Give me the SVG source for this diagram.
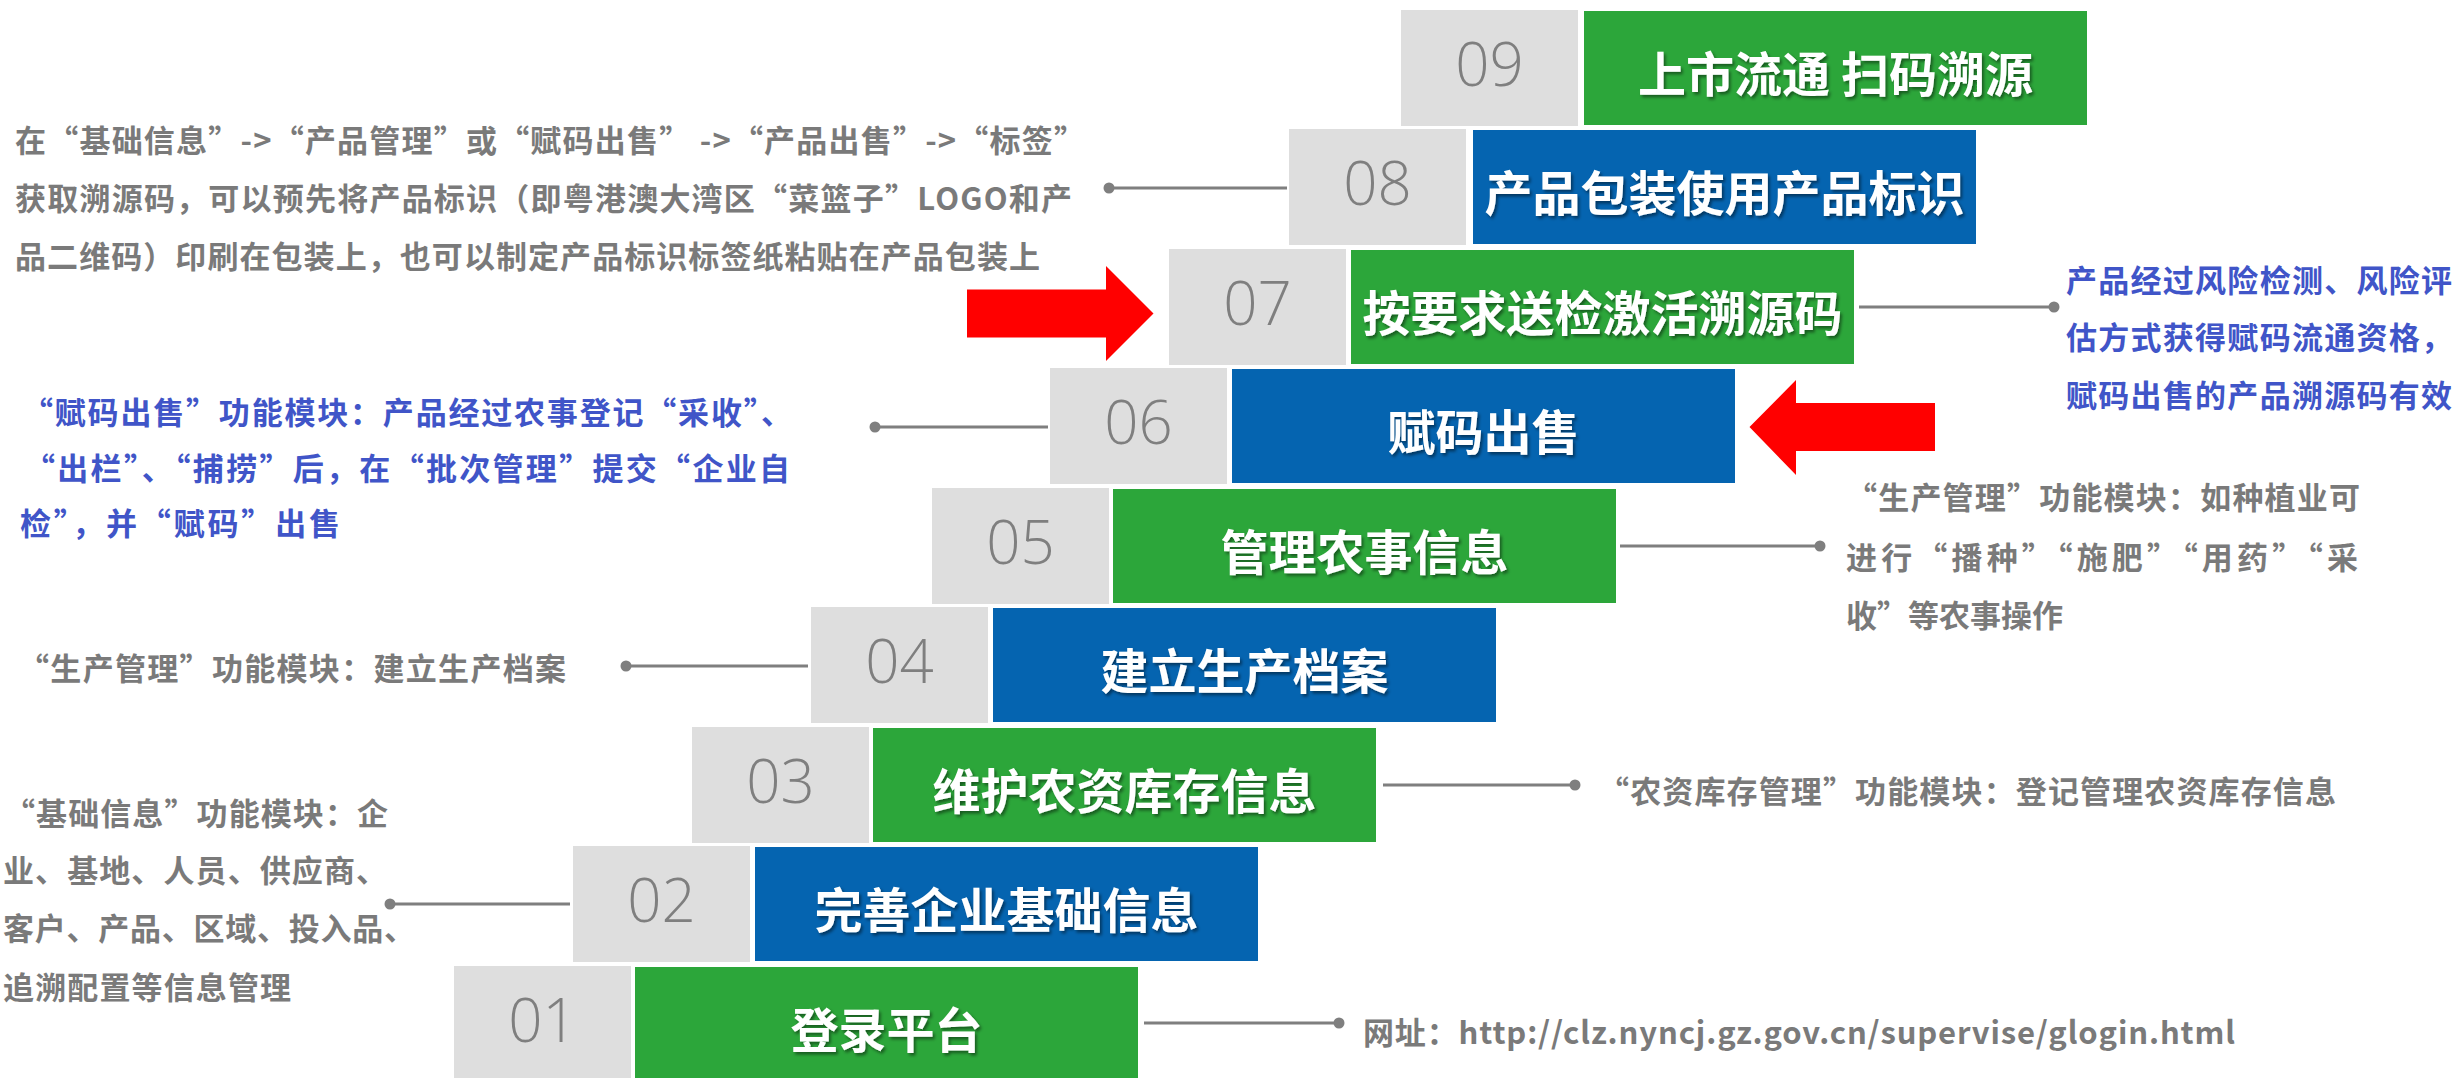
<svg xmlns="http://www.w3.org/2000/svg" width="2456" height="1078" viewBox="0 0 2456 1078">
<defs>
<filter id="ts" x="-10%" y="-30%" width="120%" height="160%">
<feDropShadow dx="2" dy="2.5" stdDeviation="1.5" flood-color="#000" flood-opacity="0.45"/>
</filter>
</defs>
<style>
.num{fill:#dedede}
.g{fill:#2ca63a}
.b{fill:#0564b0}
.n{font-family:"Open Sans","Noto Sans","Liberation Sans",sans-serif;font-weight:300;font-size:60px;fill:#7f7f7f;text-anchor:middle}
.t{font-family:"Noto Sans CJK SC","Noto Sans",sans-serif;font-weight:700;font-size:48px;fill:#fff;text-anchor:middle;filter:url(#ts)}
.note{font-family:"Noto Sans CJK SC","Noto Sans",sans-serif;font-weight:700;font-size:31px;fill:#7a7a7a}
.blue{fill:#4055c8}
.ln{stroke:#7f7f7f;stroke-width:3;fill:none}
.dot{fill:#7f7f7f}
.arrow{fill:#ff0000}
</style>
<rect width="2456" height="1078" fill="#fff"/>

<g id="step09">
<rect class="num" x="1401" y="10" width="177" height="116"/>
<rect class="g" x="1584" y="11" width="503" height="114"/>
<text class="n" x="1489.5" y="86">09</text>
<text class="t" x="1835.5" y="92">上市流通 扫码溯源</text>
</g>
<g id="step08">
<rect class="num" x="1289" y="129" width="177" height="116"/>
<rect class="b" x="1473" y="130" width="503" height="114"/>
<text class="n" x="1377.5" y="205">08</text>
<text class="t" x="1724.5" y="211">产品包装使用产品标识</text>
</g>
<g id="step07">
<rect class="num" x="1169" y="249" width="177" height="116"/>
<rect class="g" x="1351" y="250" width="503" height="114"/>
<text class="n" x="1257.5" y="325">07</text>
<text class="t" x="1602.5" y="331">按要求送检激活溯源码</text>
</g>
<g id="step06">
<rect class="num" x="1050" y="368" width="177" height="116"/>
<rect class="b" x="1232" y="369" width="503" height="114"/>
<text class="n" x="1138.5" y="444">06</text>
<text class="t" x="1483.5" y="450">赋码出售</text>
</g>
<g id="step05">
<rect class="num" x="932" y="488" width="177" height="116"/>
<rect class="g" x="1113" y="489" width="503" height="114"/>
<text class="n" x="1020.5" y="564">05</text>
<text class="t" x="1364.5" y="570">管理农事信息</text>
</g>
<g id="step04">
<rect class="num" x="811" y="607" width="177" height="116"/>
<rect class="b" x="993" y="608" width="503" height="114"/>
<text class="n" x="899.5" y="683">04</text>
<text class="t" x="1244.5" y="689">建立生产档案</text>
</g>
<g id="step03">
<rect class="num" x="692" y="727" width="177" height="116"/>
<rect class="g" x="873" y="728" width="503" height="114"/>
<text class="n" x="780.5" y="803">03</text>
<text class="t" x="1124.5" y="809">维护农资库存信息</text>
</g>
<g id="step02">
<rect class="num" x="573" y="846" width="177" height="116"/>
<rect class="b" x="755" y="847" width="503" height="114"/>
<text class="n" x="661.5" y="922">02</text>
<text class="t" x="1006.5" y="928">完善企业基础信息</text>
</g>
<g id="step01">
<rect class="num" x="454" y="966" width="177" height="116"/>
<rect class="g" x="635" y="967" width="503" height="114"/>
<text class="n" x="542.5" y="1042">01</text>
<text class="t" x="886.5" y="1048">登录平台</text>
</g>

<g id="connectors">
<line class="ln" x1="1109" y1="188" x2="1287" y2="188"/><circle class="dot" cx="1109" cy="188" r="5.5"/>
<line class="ln" x1="1859" y1="307" x2="2054" y2="307"/><circle class="dot" cx="2054" cy="307" r="5.5"/>
<line class="ln" x1="875" y1="427" x2="1048" y2="427"/><circle class="dot" cx="875" cy="427" r="5.5"/>
<line class="ln" x1="1620" y1="546" x2="1820" y2="546"/><circle class="dot" cx="1820" cy="546" r="5.5"/>
<line class="ln" x1="626" y1="666" x2="808" y2="666"/><circle class="dot" cx="626" cy="666" r="5.5"/>
<line class="ln" x1="1383" y1="785" x2="1575" y2="785"/><circle class="dot" cx="1575" cy="785" r="5.5"/>
<line class="ln" x1="390" y1="904" x2="570" y2="904"/><circle class="dot" cx="390" cy="904" r="5.5"/>
<line class="ln" x1="1144" y1="1023" x2="1339" y2="1023"/><circle class="dot" cx="1339" cy="1023" r="5.5"/>
</g>

<g id="arrows">
<polygon class="arrow" points="967,289.5 1106,289.5 1106,266 1153.5,313.5 1106,361 1106,337.5 967,337.5"/>
<polygon class="arrow" points="1935,403 1796,403 1796,380 1749.5,427 1796,475 1796,451 1935,451"/>
</g>

<g id="note08">
<text class="note" x="15" y="152" textLength="1070" lengthAdjust="spacing">在“基础信息”-&gt;“产品管理”或“赋码出售” -&gt;“产品出售”-&gt;“标签”</text>
<text class="note" x="15" y="210" textLength="1057" lengthAdjust="spacing">获取溯源码，可以预先将产品标识（即粤港澳大湾区“菜篮子”LOGO和产</text>
<text class="note" x="15" y="268" textLength="1025" lengthAdjust="spacing">品二维码）印刷在包装上，也可以制定产品标识标签纸粘贴在产品包装上</text>
</g>
<g id="note07">
<text class="note blue" x="2066" y="292" textLength="386" lengthAdjust="spacing">产品经过风险检测、风险评</text>
<text class="note blue" x="2066" y="349" textLength="386" lengthAdjust="spacing">估方式获得赋码流通资格，</text>
<text class="note blue" x="2066" y="407" textLength="386" lengthAdjust="spacing">赋码出售的产品溯源码有效</text>
</g>
<g id="note06">
<text class="note blue" x="22" y="424" textLength="770" lengthAdjust="spacing">“赋码出售”功能模块：产品经过农事登记“采收”、</text>
<text class="note blue" x="24" y="480" textLength="766" lengthAdjust="spacing">“出栏”、“捕捞”后，在“批次管理”提交“企业自</text>
<text class="note blue" x="20" y="535" textLength="320" lengthAdjust="spacing">检”，并“赋码”出售</text>
</g>
<g id="note05">
<text class="note" x="1846" y="509" textLength="514" lengthAdjust="spacing">“生产管理”功能模块：如种植业可</text>
<text class="note" x="1846" y="569" textLength="512" lengthAdjust="spacing">进行“播种”“施肥”“用药”“采</text>
<text class="note" x="1846" y="627">收”等农事操作</text>
</g>
<g id="note04">
<text class="note" x="18" y="680" textLength="548" lengthAdjust="spacing">“生产管理”功能模块：建立生产档案</text>
</g>
<g id="note03">
<text class="note" x="1598" y="803" textLength="738" lengthAdjust="spacing">“农资库存管理”功能模块：登记管理农资库存信息</text>
</g>
<g id="note02">
<text class="note" x="4" y="825" textLength="384" lengthAdjust="spacing">“基础信息”功能模块：企</text>
<text class="note" x="3" y="882" textLength="384" lengthAdjust="spacing">业、基地、人员、供应商、</text>
<text class="note" x="3" y="940" textLength="412" lengthAdjust="spacing">客户、产品、区域、投入品、</text>
<text class="note" x="3" y="999" textLength="288" lengthAdjust="spacing">追溯配置等信息管理</text>
</g>
<g id="note01">
<text class="note" x="1363" y="1044" textLength="872" lengthAdjust="spacing">网址：http://clz.nyncj.gz.gov.cn/supervise/glogin.html</text>
</g>
</svg>
